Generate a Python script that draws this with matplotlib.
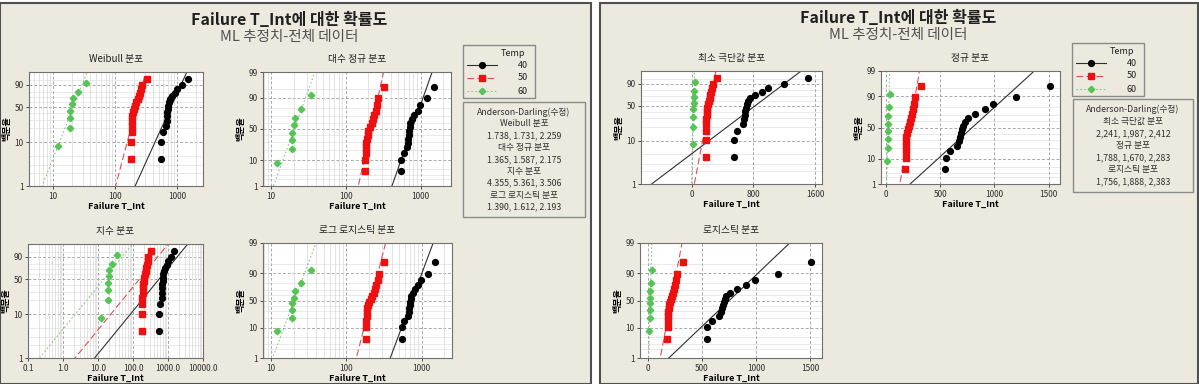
import numpy as np
import matplotlib
matplotlib.use('Agg')
import matplotlib.pyplot as plt
from matplotlib.patches import Rectangle
from matplotlib.lines import Line2D
from matplotlib.ticker import NullLocator, FixedLocator
from statistics import NormalDist

plt.rcParams['font.family'] = ['Noto Sans CJK KR', 'DejaVu Sans']
plt.rcParams['axes.unicode_minus'] = False

# failure times by temperature group
temps = ['40', '50', '60']
t40 = [545, 550, 590, 660, 675, 685, 695, 705, 715, 725, 760, 820, 910, 990, 1200, 1510]
t50 = [180, 182, 184, 186, 188, 190, 195, 200, 210, 220, 230, 240, 250, 262, 272, 320]
t60 = [12, 19, 19, 19, 20, 21, 25, 34]

# Anderson-Darling (adjusted) per distribution, groups 40/50/60
ad_left = [('Weibull 분포', '1.738, 1.731, 2.259'),
           ('대수 정규 분포', '1.365, 1.587, 2.175'),
           ('지수 분포', '4.355, 5.361, 3.506'),
           ('로그 로지스틱 분포', '1.390, 1.612, 2.193')]
ad_right = [('최소 극단값 분포', '2,241, 1,987, 2,412'),
            ('정규 분포', '1,788, 1,670, 2,283'),
            ('로지스틱 분포', '1,756, 1,888, 2,383')]

title = 'Failure T_Int에 대한 확률도'
subtitle = 'ML 추정치-전체 데이터'
xlabel = 'Failure T_Int'
ylabel = '백분율'

groups = [t40, t50, t60]
colors = ['#000000', '#EE1010', '#55C455']
line_colors = ['#303030', '#E05050', '#88C888']
markers = ['o', 's', 'D']
msizes = [4.2, 4.0, 3.3]
lstyles = ['-', (0, (6, 3)), (0, (1.5, 2))]

BG = '#ECEADF'
W, H = 1199, 384
nd = NormalDist()
inv_cdf = np.vectorize(nd.inv_cdf, otypes=[float])
cdf = np.vectorize(nd.cdf, otypes=[float])


def fx(px):
    return px / W


def fy(py):
    return 1 - py / H


# ---------- fitting helpers (ML) ----------
def sev_fit(x):
    x = np.asarray(x, float)
    m = x.mean()
    rng = x.max() - x.min()

    def g(b):
        w = np.exp((x - x.max()) / b)
        return (x * w).sum() / w.sum() - m - b
    lo, hi = rng * 1e-4, rng * 10
    for _ in range(200):
        mid = 0.5 * (lo + hi)
        if g(mid) > 0:
            lo = mid
        else:
            hi = mid
    b = 0.5 * (lo + hi)
    u = x.max() + b * np.log(np.mean(np.exp((x - x.max()) / b)))
    return u, b


def logis_fit(x):
    x = np.asarray(x, float)

    def loc_for(s):
        lo, hi = x.min(), x.max()
        for _ in range(100):
            mid = 0.5 * (lo + hi)
            if np.tanh((x - mid) / (2 * s)).sum() > 0:
                lo = mid
            else:
                hi = mid
        return 0.5 * (lo + hi)

    def ll(s):
        mu = loc_for(s)
        z = (x - mu) / s
        return np.sum(-z - np.log(s) - 2 * np.logaddexp(0, -z))
    sd = x.std()
    a, b = sd * 0.02, sd * 3
    gr = (np.sqrt(5) - 1) / 2
    for _ in range(80):
        c = b - gr * (b - a)
        d = a + gr * (b - a)
        if ll(c) > ll(d):
            b = d
        else:
            a = c
    s = 0.5 * (a + b)
    return loc_for(s), s


def quantiles(kind, data, p):
    x = np.asarray(data, float)
    q = np.asarray(p) / 100.0
    wq = np.log(-np.log(1 - q))
    zq = inv_cdf(q)
    lq = np.log(q / (1 - q))
    if kind == 'weibull':
        u, b = sev_fit(np.log(x))
        return np.exp(u + b * wq)
    if kind == 'lognorm':
        lx = np.log(x)
        return np.exp(lx.mean() + lx.std() * zq)
    if kind == 'expon':
        return -x.mean() * np.log(1 - q)
    if kind == 'loglogis':
        mu, s = logis_fit(np.log(x))
        return np.exp(mu + s * lq)
    if kind == 'sev':
        u, b = sev_fit(x)
        return u + b * wq
    if kind == 'normal':
        return x.mean() + x.std() * zq
    if kind == 'logis':
        mu, s = logis_fit(x)
        return mu + s * lq


# ---------- probability scales ----------
def _clip(p):
    return np.clip(np.asarray(p, float), 1e-7, 100 - 1e-7) / 100.0


scales = {
    'sev': (lambda p: np.log(-np.log(1 - _clip(p))),
            lambda y: 100 * (1 - np.exp(-np.exp(np.asarray(y, float))))),
    'norm': (lambda p: inv_cdf(_clip(p)),
             lambda y: 100 * cdf(np.asarray(y, float))),
    'logit': (lambda p: np.log(_clip(p) / (1 - _clip(p))),
              lambda y: 100 / (1 + np.exp(-np.asarray(y, float)))),
}

minor_pct = [2, 3, 5, 20, 30, 40, 60, 70, 80, 95]


def prob_plot(rect, name, kind, xscale, xlim, xticks, xtl, yscale, yticks):
    x0, y0, x1, y1 = rect
    ax = fig.add_axes([fx(x0), fy(y1), fx(x1) - fx(x0), fy(y0) - fy(y1)])
    ax.set_facecolor('white')
    ax.set_yscale('function', functions=scales[yscale])
    if xscale == 'log':
        ax.set_xscale('log')
    ax.set_xlim(*xlim)
    ax.set_ylim(1, 99)

    # grid
    for p in minor_pct:
        ax.axhline(p, color='#E2E2E2', lw=0.5, zorder=0)
    for p in yticks:
        if 1 < p < 99:
            ax.axhline(p, color='#A8A8A8', lw=0.7, ls=(0, (3, 2)), zorder=0)
    if xscale == 'log':
        lo, hi = np.floor(np.log10(xlim[0])), np.ceil(np.log10(xlim[1]))
        for d in np.arange(lo, hi + 1):
            for k in range(2, 10):
                v = k * 10 ** d
                if xlim[0] < v < xlim[1]:
                    ax.axvline(v, color='#D8D8D8', lw=0.5, zorder=0)
    for v in xticks:
        if xlim[0] < v < xlim[1]:
            ax.axvline(v, color='#A8A8A8', lw=0.7, ls=(0, (3, 2)), zorder=0)

    for data, c, lc, m, ms, ls in zip(groups, colors, line_colors, markers, msizes, lstyles):
        pos = (np.arange(1, len(data) + 1) - 0.3) / (len(data) + 0.4) * 100
        ax.plot(np.sort(data), pos, ls='none', marker=m, ms=ms, color=c,
                mec=c, zorder=3)
        pl = np.array([0.001, 99.999])
        ax.plot(quantiles(kind, data, pl), pl, color=lc, ls=ls, lw=0.8, zorder=2)

    ax.xaxis.set_major_locator(FixedLocator(xticks))
    ax.set_xticklabels(xtl)
    ax.xaxis.set_minor_locator(NullLocator())
    ax.yaxis.set_major_locator(FixedLocator(yticks))
    ax.set_yticklabels([str(v) for v in yticks])
    ax.yaxis.set_minor_locator(NullLocator())
    ax.tick_params(labelsize=6, length=2.5, width=0.6, colors='#303030', pad=1.5)
    for s in ax.spines.values():
        s.set_color('#707070')
        s.set_linewidth(0.8)
    ax.set_title(name, fontsize=7, color='#202020', pad=7)
    ax.set_xlabel(xlabel, fontsize=6.5, fontweight='bold', labelpad=1)
    ax.set_ylabel(ylabel, fontsize=6.5, fontweight='bold', labelpad=2)
    return ax


def legend_box(x0, y0):
    fig.add_artist(Rectangle((fx(x0), fy(y0 + 53)), 72 / W, 53 / H,
                             transform=fig.transFigure, fc=BG, ec='#8A8A8A', lw=1.0))
    fig.text(fx(x0 + 62), fy(y0 + 9), 'Temp', fontsize=6.5, ha='right', va='center', color='#202020')
    for i, (lab, c, lc, m, ms, ls) in enumerate(zip(temps, colors, line_colors, markers, msizes, lstyles)):
        yy = fy(y0 + 20 + 13 * i)
        fig.add_artist(Line2D([fx(x0 + 4), fx(x0 + 34)], [yy, yy], color=lc, ls=ls, lw=0.8,
                              transform=fig.transFigure))
        fig.add_artist(Line2D([fx(x0 + 19)], [yy], marker=m, ms=ms, color=c, ls='none',
                              transform=fig.transFigure))
        fig.text(fx(x0 + 65), yy, lab, fontsize=6.5, ha='right', va='center', color='#202020')


def ad_box(x0, y0, x1, y1, rows):
    fig.add_artist(Rectangle((fx(x0), fy(y1)), (x1 - x0) / W, (y1 - y0) / H,
                             transform=fig.transFigure, fc=BG, ec='#8A8A8A', lw=1.0))
    lines = ['Anderson-Darling(수정)']
    for name, vals in rows:
        lines += [name, vals]
    step = (y1 - y0 - 8) / len(lines)
    for i, t in enumerate(lines):
        fig.text(fx((x0 + x1) / 2), fy(y0 + 4 + step * (i + 0.5)), t, fontsize=6.3,
                 ha='center', va='center', color='#303030')


fig = plt.figure(figsize=(W / 100, H / 100), dpi=100, facecolor='white')

# panel backgrounds
fig.add_artist(Rectangle((0, 0), fx(591), fy(3), transform=fig.transFigure,
                         fc=BG, ec='#505050', lw=1.5, zorder=-5))
fig.add_artist(Rectangle((fx(600), 0), fx(1198) - fx(600), fy(3), transform=fig.transFigure,
                         fc=BG, ec='#505050', lw=1.5, zorder=-5))

# left panel
fig.text(fx(289), fy(20), title, fontsize=11.5, fontweight='bold', ha='center', va='center', color='#202020')
fig.text(fx(289), fy(37), subtitle, fontsize=10.5, ha='center', va='center', color='#505050')

prob_plot((29, 72, 203, 186), 'Weibull 분포', 'weibull', 'log', (4.1, 2600),
          [10, 100, 1000], ['10', '100', '1000'], 'sev', [1, 10, 50, 90])
prob_plot((263, 72, 451, 186), '대수 정규 분포', 'lognorm', 'log', (7.8, 2540),
          [10, 100, 1000], ['10', '100', '1000'], 'norm', [1, 10, 50, 90, 99])
prob_plot((28, 244, 203, 358), '지수 분포', 'expon', 'log', (0.1, 10000),
          [0.1, 1, 10, 100, 1000, 10000], ['0.1', '1.0', '10.0', '100.0', '1000.0', '10000.0'],
          'sev', [1, 10, 50, 90])
prob_plot((263, 243, 452, 358), '로그 로지스틱 분포', 'loglogis', 'log', (7.8, 2540),
          [10, 100, 1000], ['10', '100', '1000'], 'logit', [1, 10, 50, 90, 99])
legend_box(463, 45)
ad_box(463, 102, 585, 217, ad_left)

# right panel
fig.text(fx(898), fy(18), title, fontsize=11.5, fontweight='bold', ha='center', va='center', color='#202020')
fig.text(fx(898), fy(35), subtitle, fontsize=10.5, ha='center', va='center', color='#505050')

prob_plot((641, 71, 822, 184), '최소 극단값 분포', 'sev', 'linear', (-663, 1691),
          [0, 800, 1600], ['0', '800', '1600'], 'sev', [1, 10, 50, 90])
prob_plot((881, 71, 1060, 184), '정규 분포', 'normal', 'linear', (-45, 1605),
          [0, 500, 1000, 1500], ['0', '500', '1000', '1500'], 'norm', [1, 10, 50, 90, 99])
prob_plot((640, 243, 822, 358), '로지스틱 분포', 'logis', 'linear', (-74, 1611),
          [0, 500, 1000, 1500], ['0', '500', '1000', '1500'], 'logit', [1, 10, 50, 90, 99])
legend_box(1072, 43)
ad_box(1073, 99, 1193, 192, ad_right)

fig.savefig('out.png', dpi=100, facecolor='white')
